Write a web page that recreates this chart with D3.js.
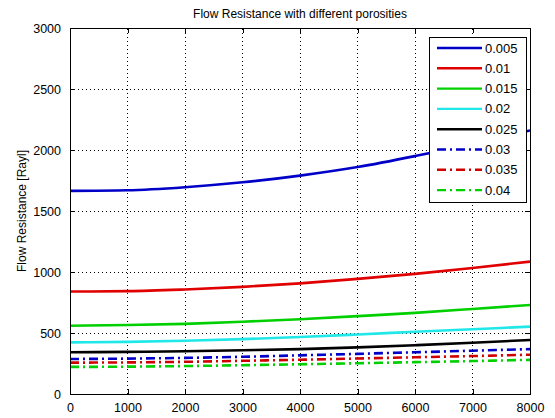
<!DOCTYPE html>
<html>
<head>
<meta charset="utf-8">
<script src="https://cdn.jsdelivr.net/npm/d3@7"></script>
<style>
  html, body { margin: 0; padding: 0; background: #fff; }
  svg { display: block; font-family: "Liberation Sans", Arial, sans-serif; }
</style>
</head>
<body>
<svg id="chart" width="555" height="418"></svg>
<script>
// Frequency samples along x
const xValues = [0, 1000, 2000, 3000, 4000, 5000, 6000, 7000, 8000];

// Porosity labels, one per series
const porosities = ["0.005", "0.01", "0.015", "0.02", "0.025", "0.03", "0.035", "0.04"];

// Flow resistance [Rayl] for each porosity
const r005 = [1665, 1670, 1695, 1735, 1790, 1860, 1950, 2050, 2160];
const r010 = [840, 843, 857, 878, 907, 944, 985, 1033, 1085];
const r015 = [560, 565, 575, 592, 613, 638, 665, 697, 730];
const r020 = [423, 427, 436, 450, 467, 488, 510, 531, 552];
const r025 = [342, 345, 350, 358, 368, 382, 400, 420, 443];
const r030 = [287, 290, 296, 305, 317, 329, 342, 355, 368];
const r035 = [257, 259, 264, 272, 281, 291, 301, 311, 322];
const r040 = [222, 224, 229, 236, 244, 252, 261, 270, 280];

const seriesValues = [r005, r010, r015, r020, r025, r030, r035, r040];
const seriesColors = ["#0000c8", "#e00000", "#00d000", "#20e8e8", "#000000", "#0000c8", "#d00000", "#00d000"];
const seriesDash = [null, null, null, null, null, "9,4,2,4", "9,4,2,4", "9,4,2,4"];

const xTicks = [0, 1000, 2000, 3000, 4000, 5000, 6000, 7000, 8000];
const yTicks = [0, 500, 1000, 1500, 2000, 2500, 3000];

const titleText = "Flow Resistance with different porosities";
const yLabelText = "Flow Resistance [Rayl]";

const svg = d3.select("#chart");
const margin = { left: 70, right: 25, top: 28, bottom: 24 };
const W = 555, H = 418;
const x = d3.scaleLinear().domain([0, 8000]).range([margin.left, W - margin.right]);
const y = d3.scaleLinear().domain([0, 3000]).range([H - margin.bottom, margin.top]);

const x0 = x.range()[0], x1 = x.range()[1];
const y0 = y.range()[0], y1 = y.range()[1];

// Dotted grid
const grid = svg.append("g");
grid.selectAll("line.gx").data(xTicks.slice(1, -1)).join("line")
  .attr("x1", d => x(d)).attr("x2", d => x(d))
  .attr("y1", y0).attr("y2", y1)
  .attr("stroke", "#000").attr("stroke-width", 1).attr("stroke-dasharray", "1,3")
  .attr("shape-rendering", "crispEdges");
grid.selectAll("line.gy").data(yTicks.slice(1, -1)).join("line")
  .attr("x1", x0).attr("x2", x1)
  .attr("y1", d => y(d)).attr("y2", d => y(d))
  .attr("stroke", "#000").attr("stroke-width", 1).attr("stroke-dasharray", "1,3")
  .attr("shape-rendering", "crispEdges");

// Series lines
const line = d3.line().x((d, i) => x(xValues[i])).y(d => y(d)).curve(d3.curveMonotoneX);
const clip = svg.append("clipPath").attr("id", "plotclip").append("rect")
  .attr("x", x0).attr("y", y1).attr("width", x1 - x0).attr("height", y0 - y1);
svg.append("g").attr("clip-path", "url(#plotclip)")
  .selectAll("path").data(seriesValues).join("path")
  .attr("d", d => line(d))
  .attr("fill", "none")
  .attr("stroke", (d, i) => seriesColors[i])
  .attr("stroke-width", 2.6)
  .attr("stroke-dasharray", (d, i) => seriesDash[i]);

// Axes with inward ticks on all four sides
const tickFmt = d3.format("d");
const axB = svg.append("g").attr("transform", `translate(0,${y0})`)
  .call(d3.axisBottom(x).tickValues(xTicks).tickFormat(tickFmt).tickSizeInner(-5).tickSizeOuter(0).tickPadding(9));
const axL = svg.append("g").attr("transform", `translate(${x0},0)`)
  .call(d3.axisLeft(y).tickValues(yTicks).tickFormat(tickFmt).tickSizeInner(-5).tickSizeOuter(0).tickPadding(9));
const axT = svg.append("g").attr("transform", `translate(0,${y1})`)
  .call(d3.axisTop(x).tickValues(xTicks).tickFormat("").tickSizeInner(-5).tickSizeOuter(0));
const axR = svg.append("g").attr("transform", `translate(${x1},0)`)
  .call(d3.axisRight(y).tickValues(yTicks).tickFormat("").tickSizeInner(-5).tickSizeOuter(0));
[axB, axL, axT, axR].forEach(a => {
  a.select(".domain").remove();
  a.selectAll("line").attr("stroke", "#000").attr("shape-rendering", "crispEdges");
  a.selectAll("text").attr("fill", "#000").style("font-size", "12.5px")
    .style("font-family", "'Liberation Sans', Arial, sans-serif");
});

// Axes box
svg.append("rect").attr("x", x0).attr("y", y1).attr("width", x1 - x0).attr("height", y0 - y1)
  .attr("fill", "none").attr("stroke", "#000").attr("stroke-width", 1).attr("shape-rendering", "crispEdges");

// Title and y label
svg.append("text").attr("x", (x0 + x1) / 2).attr("y", 18).attr("text-anchor", "middle")
  .style("font-size", "12px").text(titleText);
svg.append("text").attr("transform", `translate(26,${(y0 + y1) / 2}) rotate(-90)`)
  .attr("text-anchor", "middle").style("font-size", "12px").text(yLabelText);

// Legend
const lg = svg.append("g");
const lgX = 429, lgY = 37, lgW = 97, lgH = 165;
lg.append("rect").attr("x", lgX).attr("y", lgY).attr("width", lgW).attr("height", lgH)
  .attr("fill", "#fff").attr("stroke", "#000").attr("shape-rendering", "crispEdges");
const rowH = 20.3;
const items = lg.selectAll("g.item").data(porosities).join("g")
  .attr("transform", (d, i) => `translate(0,${lgY + 11 + i * rowH})`);
items.append("line").attr("x1", lgX + 8).attr("x2", lgX + 53).attr("y1", 0).attr("y2", 0)
  .attr("stroke", (d, i) => seriesColors[i]).attr("stroke-width", 2.4)
  .attr("stroke-dasharray", (d, i) => seriesDash[i]);
items.append("text").attr("x", lgX + 56).attr("y", 0).attr("dy", "0.35em")
  .style("font-size", "13px").text(d => d);
</script>
</body>
</html>
